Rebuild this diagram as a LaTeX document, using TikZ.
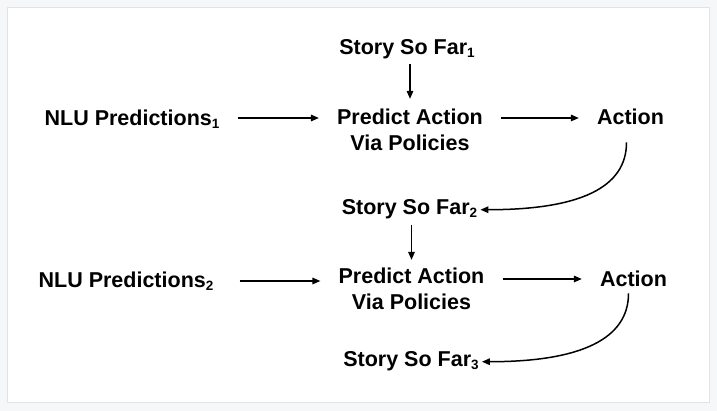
\documentclass[tikz,border=0pt]{standalone}
\usepackage{fontspec}
\setmainfont{Liberation Sans}
\usetikzlibrary{arrows.meta}
\definecolor{pagegray}{HTML}{F6F7F9}
\definecolor{framegray}{HTML}{E2E3E7}
\newcommand{\lowidx}[1]{\raisebox{-3pt}{\fontsize{13.5}{12}\selectfont\bfseries #1}}
\tikzset{
  box/.style={font=\bfseries\fontsize{21.5}{26}\selectfont, inner sep=3pt, text=black},
  arrow line/.style={-{Triangle[length=8pt,width=6.5pt]}, line width=1.5pt},
  flow/.style={arrow line, shorten <=15pt, shorten >=15pt},
  drop/.style={arrow line, shorten <=1pt, shorten >=7pt},
  carry/.style={arrow line, out=-90, in=0, out distance=45pt, in distance=100pt}
}
\begin{document}
\begin{tikzpicture}[x=1pt,y=1pt]
      \fill[pagegray] (0,0) rectangle (717,411);
      \draw[framegray, fill=white, line width=0.8pt] (7,9) rectangle (709,404);
      \draw[every node/.style={box}]
        (407,356) node[anchor=base] (s1){Story So Far\lowidx{1}}
        (132,285) node[anchor=base] (n1){NLU Predictions\lowidx{1}}
        (410,281) node[align=center] (p1){Predict Action\\Via Policies}
        (630.5,286) node[anchor=base] (a1){Action}
        (409.5,196) node[anchor=base] (s2){Story So Far\lowidx{2}}
        (126,123) node[anchor=base] (n2){NLU Predictions\lowidx{2}}
        (411.5,122) node[align=center] (p2){Predict Action\\Via Policies}
        (633.5,124) node[anchor=base] (a2){Action}
        (411,44) node[anchor=base] (s3){Story So Far\lowidx{3}};
      \begin{scope}[flow]
        \draw ([yshift=8pt]n1.base east) to ([yshift=8pt]n1.base east -| p1.west);
        \draw ([yshift=7pt]p1.east |- a1.base west) to ([yshift=7pt]a1.base west);
        \draw[shorten <=23pt] ([yshift=7pt]n2.base east) to ([yshift=7pt]n2.base east -| p2.west);
        \draw ([yshift=8pt]p2.east |- a2.base west) to ([yshift=8pt]a2.base west);
      \end{scope}
      \begin{scope}[drop]
        \draw (s1.south -| p1.north) to (p1.north);
        \draw[shorten <=2pt, shorten >=5pt] (s2.south -| p2.north) to (p2.north);
      \end{scope}
      \begin{scope}[carry]
        \draw ([xshift=-4pt,yshift=-14pt]a1.south) to (s2.east);
        \draw ([xshift=-5pt,yshift=-3pt]a2.south) to (s3.east);
      \end{scope}
    \end{tikzpicture}
\end{document}
